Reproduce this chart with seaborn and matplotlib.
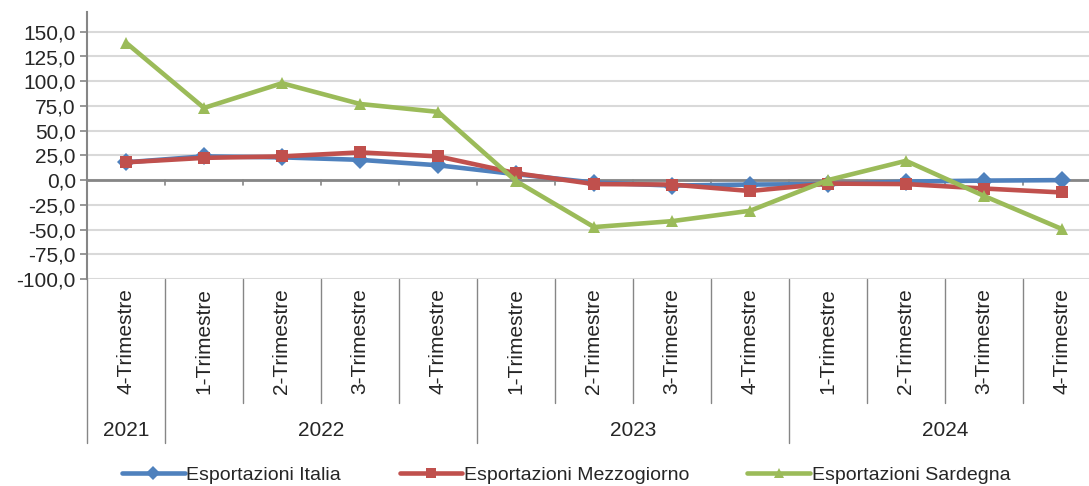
import numpy as np
import pandas as pd
import matplotlib.pyplot as plt
import seaborn as sns

quarters = ["4-Trimestre", "1-Trimestre", "2-Trimestre", "3-Trimestre", "4-Trimestre",
            "1-Trimestre", "2-Trimestre", "3-Trimestre", "4-Trimestre",
            "1-Trimestre", "2-Trimestre", "3-Trimestre", "4-Trimestre"]
years = ["2021", "2022", "2023", "2024"]
year_len = [1, 4, 4, 4]

italia = [18.0, 24.0, 23.0, 20.5, 15.0, 6.0, -2.5, -5.5, -4.5, -4.0, -1.5, -0.5, 0.0]
mezzogiorno = [18.0, 22.5, 24.0, 28.0, 24.0, 7.0, -4.0, -4.5, -11.0, -3.5, -4.0, -8.5, -12.5]
sardegna = [139.0, 73.0, 98.0, 77.0, 69.0, -1.0, -47.5, -41.5, -31.0, 0.0, 19.5, -16.0, -49.5]

series = ["Esportazioni Italia", "Esportazioni Mezzogiorno", "Esportazioni Sardegna"]
colors = ["#4F81BD", "#C0504D", "#9BBB59"]
markers = ["D", "s", "^"]

df = pd.DataFrame({
    "pos": list(range(len(quarters))) * 3,
    "valore": italia + mezzogiorno + sardegna,
    "serie": [s for s in series for _ in quarters],
})

sns.set_style("white")
plt.rcParams["font.family"] = ["Liberation Sans", "DejaVu Sans"]
fs = 15

fig = plt.figure(figsize=(10.89, 4.86), dpi=100)
ax = fig.add_axes([87 / 1089, 1 - 279 / 486, 1014 / 1089, 267 / 486])

sns.lineplot(data=df, x="pos", y="valore", hue="serie", style="serie",
             palette=colors, markers=markers, dashes=False, linewidth=3.3,
             markersize=9, markeredgewidth=0, ax=ax, legend=False)

ax.set_xlim(-0.5, len(quarters) - 0.5)
ax.set_ylim(-100, 170)
yt = np.arange(-100, 151, 25)
ax.set_yticks(yt)
ax.set_yticklabels([f"{v:.1f}".replace(".", ",") for v in yt], fontsize=fs)
ax.yaxis.grid(True, color="#D9D9D9", linewidth=1.5)
ax.set_axisbelow(True)
ax.tick_params(axis="y", left=True, length=5, color="#868686", width=1.2, pad=3)
ax.set_xticks([])
ax.set_xlabel("")
ax.set_ylabel("")
for s in ["top", "right", "bottom"]:
    ax.spines[s].set_visible(False)
ax.spines["left"].set_color("#868686")
ax.spines["left"].set_linewidth(1.5)

# zero axis line with ticks at category boundaries
ax.axhline(0, color="#868686", linewidth=2, zorder=1.5)
tr = ax.get_xaxis_transform()
ytick = 5 / 267
zero_frac = (0 + 100) / 270
for b in np.arange(0.5, len(quarters) - 0.5, 1):
    ax.plot([b, b], [zero_frac, zero_frac - ytick], transform=tr, color="#868686",
            linewidth=1.2, zorder=1.5)

# category axis labels below the plot
for i, q in enumerate(quarters):
    ax.text(i, -0.035, q, transform=tr, rotation=90, ha="center", va="top", fontsize=fs)

short_y = -(403 - 279) / 267
long_y = -(443 - 279) / 267
year_edges = np.concatenate([[0], np.cumsum(year_len)]) - 0.5
for b in np.arange(0.5, len(quarters) - 0.5, 1):
    if np.any(np.isclose(year_edges, b)):
        continue
    ax.plot([b, b], [0, short_y], transform=tr, color="#868686", linewidth=1,
            clip_on=False)
for b in year_edges:
    ax.plot([b, b], [0, long_y], transform=tr, color="#868686", linewidth=1,
            clip_on=False)
for y, a, b in zip(years, year_edges[:-1], year_edges[1:]):
    ax.text((a + b) / 2, -(430 - 279) / 267, y, transform=tr, ha="center", va="center",
            fontsize=fs)

# legend
handles = [plt.Line2D([], [], color=c, marker=m, linewidth=3.3, markersize=7,
                      markeredgewidth=0) for c, m in zip(colors, markers)]
fig.legend(handles, series, loc="center", bbox_to_anchor=(0.52, 1 - 475 / 486), ncol=3,
           frameon=False, fontsize=14, handlelength=3.2, handletextpad=0.1,
           columnspacing=3.0, borderaxespad=0)

fig.savefig("out.png", dpi=100)
